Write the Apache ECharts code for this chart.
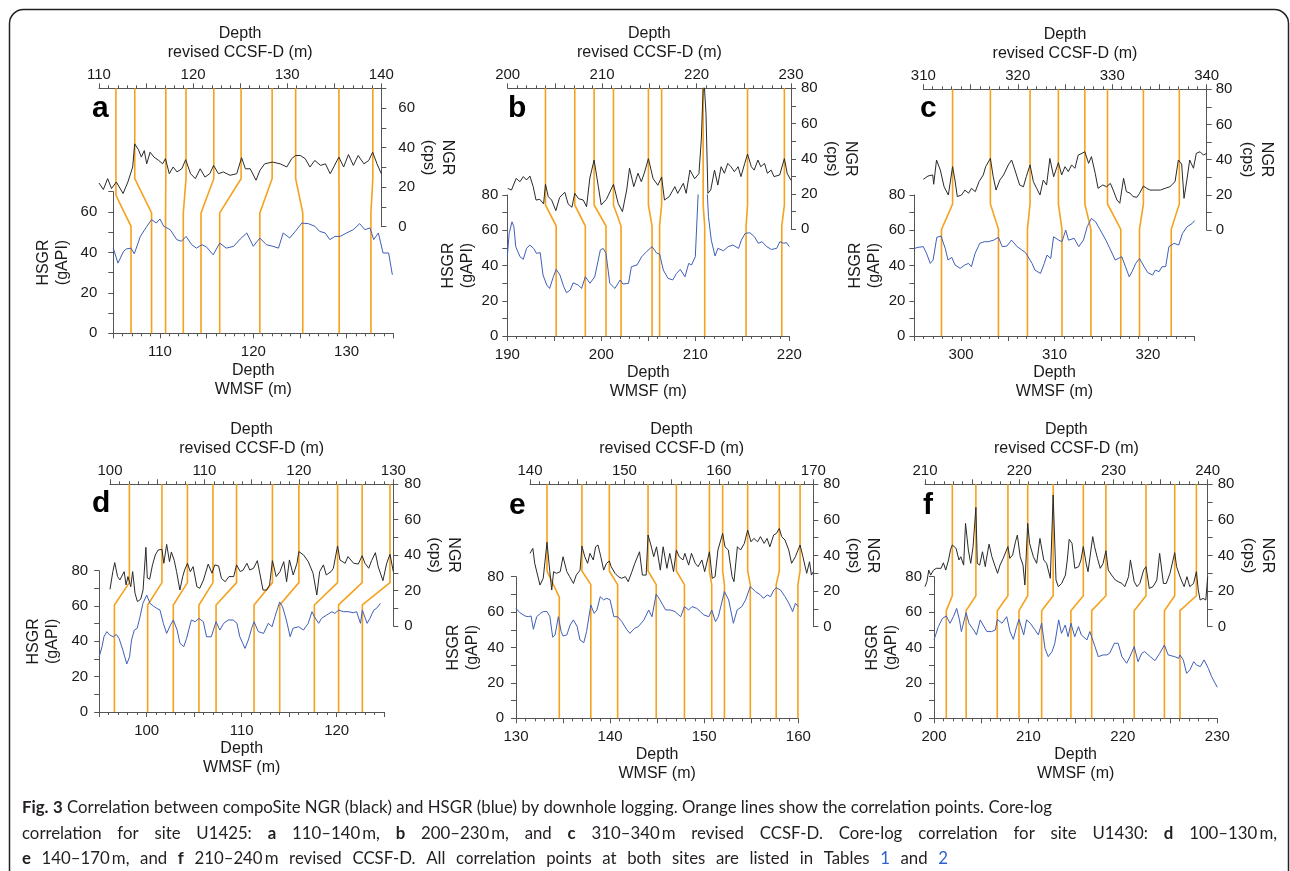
<!DOCTYPE html>
<html>
<head>
<meta charset="utf-8">
<title>Fig. 3 NGR vs HSGR correlation</title>
<script src="https://cdn.jsdelivr.net/npm/echarts@6/dist/echarts.min.js"></script>
<style>
  html, body { margin: 0; padding: 0; background: #fff; }
  #chart { width: 1290px; height: 871px; }
</style>
</head>
<body>
<div id="chart"></div>
<script>
// NGR: [revised CCSF-D depth (m), cps]; HSGR: [WMSF depth (m), gAPI]
const ngrA = [[110.0,22.1],[110.46,18.8],[110.92,24.3],[111.33,19.3],[111.84,22.6],[112.56,16.8],[113.07,22.6],[113.58,30.2],[113.79,41.9],[114.2,38.9],[114.5,35.2],[114.81,38.5],[115.07,31.8],[115.43,37.7],[115.84,35.2],[116.35,33.5],[116.76,31.8],[117.06,34.4],[117.47,26.8],[117.88,30.2],[118.29,27.7],[118.8,29.3],[119.21,33.9],[119.73,26.8],[120.24,24.3],[120.75,29.3],[121.26,25.1],[121.77,26.8],[122.18,31.0],[122.69,26.8],[123.21,27.7],[123.92,26.0],[124.64,26.8],[125.15,34.9],[125.56,29.3],[126.07,29.3],[126.69,23.5],[127.1,28.5],[127.61,31.8],[128.43,32.7],[129.25,31.8],[129.96,30.2],[130.48,34.4],[130.88,36.0],[131.4,36.0],[131.91,34.4],[132.42,30.2],[132.93,33.5],[133.55,31.0],[134.06,31.8],[134.57,26.8],[135.49,35.2],[136.0,30.2],[136.51,36.5],[137.03,31.0],[137.54,36.0],[138.15,31.8],[138.67,33.5],[139.08,37.7],[139.54,31.8],[140.0,26.8]];
const hsgrA = [[105.0,42.0],[105.5,34.7],[106.1,40.5],[106.4,41.7],[106.9,42.1],[107.25,39.3],[107.9,47.9],[108.6,52.9],[109.1,56.2],[109.6,54.5],[110.0,56.5],[110.4,52.9],[111.1,51.2],[111.8,46.3],[112.3,45.5],[112.8,47.9],[113.4,43.8],[113.9,42.1],[114.5,43.8],[115.0,42.6],[115.7,38.8],[116.4,44.6],[117.1,42.1],[117.9,43.0],[118.6,46.6],[119.3,49.6],[120.0,43.0],[120.7,47.1],[121.4,43.8],[122.1,43.0],[122.7,42.1],[123.2,49.6],[123.9,47.1],[124.5,50.4],[125.2,54.5],[125.9,54.2],[126.6,52.9],[127.1,50.4],[127.7,49.6],[128.2,46.3],[128.75,47.9],[129.3,47.9],[130.0,49.6],[130.7,51.2],[131.4,54.2],[131.96,51.2],[132.5,52.1],[132.9,46.3],[133.4,49.6],[133.9,39.7],[134.5,39.7],[134.9,28.9]];
const tieCcsfA = [111.8,113.8,117.1,119.25,122.2,125.1,128.4,130.9,135.5,139.1];
const tieWmsfA = [106.9,109.1,110.6,112.5,114.4,116.4,120.7,125.3,129.2,132.6];

const ngrB = [[200.0,23.2],[200.4,22.3],[200.9,28.9],[201.3,27.0],[201.65,29.9],[202.0,28.0],[202.35,30.2],[202.7,24.2],[203.0,16.6],[203.4,17.0],[203.8,14.4],[204.0,25.5],[204.3,18.5],[204.65,16.6],[205.1,10.6],[205.5,18.1],[206.05,21.0],[206.4,14.4],[206.8,12.5],[207.1,20.4],[207.5,17.4],[208.0,16.6],[208.35,12.8],[208.7,29.1],[209.15,39.3],[209.6,24.2],[209.9,13.8],[210.45,17.0],[211.2,25.5],[211.7,14.7],[212.15,10.0],[212.6,22.3],[212.9,34.7],[213.35,24.2],[213.8,31.8],[214.15,27.0],[214.5,32.5],[214.9,40.1],[215.4,28.7],[215.9,25.0],[216.3,29.7],[216.6,16.6],[217.1,18.5],[217.7,24.2],[218.0,20.4],[218.6,26.1],[218.9,20.4],[219.3,33.6],[219.8,28.7],[220.25,31.6],[220.5,50.6],[220.75,88],[220.9,88],[221.0,65.6],[221.2,20.4],[221.5,22.3],[221.9,33.6],[222.25,25.1],[222.6,35.5],[222.95,31.8],[223.3,37.4],[223.65,35.5],[224.0,32.7],[224.4,35.5],[224.7,29.9],[225.1,37.4],[225.4,42.7],[225.8,35.5],[226.1,33.6],[226.5,39.3],[226.8,35.5],[227.2,37.4],[227.5,31.8],[227.9,33.6],[228.2,29.9],[228.8,30.8],[229.3,40.1],[229.6,31.6],[230.0,27.8]];
const hsgrB = [[190.0,45.0],[190.2,58.2],[190.5,64.8],[190.7,62.0],[190.9,50.7],[191.35,45.0],[191.7,43.5],[192.05,49.7],[192.4,51.6],[192.8,49.7],[193.1,46.9],[193.5,47.3],[193.8,34.6],[194.2,28.9],[194.5,27.0],[194.9,33.6],[195.2,37.8],[195.6,34.6],[196.0,28.0],[196.3,24.6],[196.7,26.1],[197.0,30.2],[197.55,28.9],[197.9,27.0],[198.3,33.6],[198.8,29.9],[199.3,33.6],[199.9,48.8],[200.2,49.7],[200.5,46.9],[200.9,29.9],[201.45,27.0],[202.0,31.8],[202.3,29.5],[202.9,29.9],[203.2,39.3],[203.8,40.3],[204.3,45.0],[204.8,47.8],[205.4,50.7],[205.9,47.0],[206.2,46.5],[206.6,37.4],[207.1,32.7],[207.6,31.8],[208.0,35.5],[208.4,37.8],[208.9,33.6],[209.3,41.2],[209.6,40.3],[210.0,45.0],[210.3,80.0],[210.7,120.0],[211.1,100.0],[211.4,67.7],[211.7,54.4],[212.1,45.4],[212.4,49.7],[213.0,48.4],[213.5,50.7],[214.0,51.6],[214.6,49.7],[214.9,54.4],[215.3,58.2],[215.8,58.6],[216.3,56.3],[216.7,52.6],[217.1,53.5],[217.6,50.7],[218.1,49.1],[218.65,49.7],[219.0,53.5],[219.4,52.6],[219.7,53.0],[220.0,50.7]];
const tieCcsfB = [204.0,207.1,209.15,211.2,214.9,216.3,220.7,225.4,229.3];
const tieWmsfB = [195.2,198.3,200.5,202.1,205.4,206.2,211.0,215.4,219.2];

const ngrC = [[310.0,28.8],[310.5,30.7],[311.0,31.3],[311.1,26.0],[311.4,39.8],[311.8,34.1],[312.2,24.6],[312.65,19.9],[313.1,36.0],[313.35,28.4],[313.6,19.0],[314.05,19.9],[314.4,22.7],[314.8,20.9],[315.1,23.7],[315.5,21.8],[315.9,27.5],[316.35,31.3],[316.6,36.0],[317.1,40.7],[317.4,30.3],[317.7,22.7],[318.1,28.4],[318.5,31.3],[319.0,37.0],[319.35,39.8],[319.7,34.1],[320.2,25.6],[320.6,24.6],[320.9,30.3],[321.3,37.0],[321.65,27.5],[322.0,23.7],[322.35,19.9],[322.7,28.4],[323.05,25.6],[323.4,40.7],[323.8,30.3],[324.3,38.3],[324.65,31.3],[325.0,36.0],[325.35,33.2],[325.7,37.0],[326.05,35.1],[326.4,42.6],[326.8,43.6],[327.1,44.5],[327.5,37.9],[327.8,41.7],[328.2,32.2],[328.5,23.7],[329.0,25.6],[329.4,24.6],[329.8,26.5],[330.1,22.7],[330.5,17.1],[330.8,15.2],[331.2,29.4],[331.5,21.8],[331.9,20.9],[332.2,19.0],[332.6,18.6],[332.9,20.9],[333.3,25.0],[333.65,23.7],[334.0,22.7],[334.5,22.7],[335.1,22.7],[335.6,23.7],[336.1,24.6],[336.65,27.5],[337.0,39.8],[337.35,37.5],[337.6,18.0],[337.9,28.4],[338.2,39.8],[338.6,35.1],[338.9,43.6],[339.3,44.5],[339.65,42.6],[340.0,43.6]];
const hsgrC = [[295.0,49.7],[295.4,50.3],[295.95,50.7],[296.3,46.9],[296.7,41.2],[297.0,43.1],[297.4,56.0],[297.85,56.7],[298.3,49.7],[298.6,43.1],[299.0,44.6],[299.35,40.3],[299.9,38.4],[300.4,40.3],[300.8,41.2],[301.1,39.3],[301.5,46.9],[302.0,52.6],[302.5,53.5],[302.9,53.5],[303.5,54.4],[304.0,56.0],[304.4,50.7],[304.9,51.0],[305.4,54.4],[306.0,50.7],[306.5,48.8],[306.9,47.3],[307.1,47.8],[307.6,41.2],[307.9,37.4],[308.5,35.5],[308.9,41.2],[309.2,45.9],[309.6,44.0],[309.9,56.3],[310.45,54.4],[310.8,53.5],[311.2,60.1],[311.5,54.4],[312.1,55.4],[312.6,50.7],[313.1,54.4],[313.5,62.0],[313.95,66.7],[314.4,64.8],[314.9,60.1],[315.5,54.4],[316.0,48.8],[316.5,43.1],[317.2,45.0],[317.6,39.3],[318.0,33.6],[318.3,36.5],[318.7,41.2],[319.1,44.0],[319.6,39.3],[320.0,35.9],[320.5,34.6],[320.8,37.4],[321.2,36.5],[321.5,39.3],[321.9,39.3],[322.25,50.7],[322.8,52.6],[323.3,51.6],[323.7,58.2],[324.2,62.0],[324.75,63.9],[325.0,65.5]];
const tieCcsfC = [313.1,317.1,321.3,324.3,327.1,329.5,333.3,337.1];
const tieWmsfC = [297.9,304.0,307.1,310.8,313.9,317.1,319.1,322.5];

const ngrD = [[100.0,20.7],[100.3,30.7],[100.5,35.8],[100.8,27.9],[101.05,26.0],[101.5,30.7],[101.7,23.2],[101.9,27.9],[102.2,22.2],[102.4,30.7],[102.65,18.5],[102.9,13.8],[103.25,15.1],[103.5,20.3],[103.8,44.4],[103.95,27.1],[104.2,26.4],[104.5,34.5],[104.8,40.1],[105.1,42.9],[105.5,43.3],[105.7,35.4],[106.0,46.1],[106.3,36.3],[106.5,41.8],[106.8,37.1],[107.05,30.7],[107.4,20.3],[107.7,27.9],[107.9,31.6],[108.2,35.4],[108.5,30.7],[108.8,33.5],[109.2,22.2],[109.5,21.3],[109.9,26.0],[110.4,35.0],[110.8,29.8],[111.1,34.5],[111.5,33.9],[111.8,26.9],[112.2,25.0],[112.6,27.9],[113.1,27.9],[113.4,34.5],[113.8,30.7],[114.1,31.6],[114.5,35.4],[114.8,31.6],[115.2,32.6],[115.6,36.9],[115.9,28.8],[116.2,20.3],[116.6,20.3],[116.9,23.2],[117.2,36.9],[117.6,27.9],[118.0,30.7],[118.4,36.3],[118.7,25.0],[119.0,37.3],[119.4,28.8],[119.8,35.4],[120.0,42.0],[120.5,40.1],[121.0,36.3],[121.5,29.8],[121.9,17.5],[122.2,30.7],[122.6,34.5],[122.9,28.8],[123.4,30.7],[123.65,32.6],[124.1,45.2],[124.35,37.3],[124.9,35.4],[125.2,39.2],[125.8,35.4],[126.3,35.0],[126.7,39.7],[127.0,35.4],[127.4,32.6],[127.7,36.9],[128.1,41.4],[128.4,33.5],[128.9,25.6],[129.3,35.4],[129.65,40.5],[130.0,30.7]];
const hsgrD = [[95.0,31.3],[95.3,37.0],[95.5,42.6],[95.8,45.5],[96.1,43.6],[96.5,42.6],[96.8,43.9],[97.1,41.5],[97.5,34.9],[97.9,27.2],[98.2,31.3],[98.4,40.8],[98.7,46.4],[99.0,47.4],[99.3,54.0],[99.6,61.5],[100.0,66.2],[100.35,61.5],[100.7,60.0],[101.05,58.7],[101.4,57.7],[101.75,50.2],[102.1,44.5],[102.5,49.2],[102.8,52.1],[103.2,46.4],[103.5,38.9],[103.9,37.0],[104.2,41.7],[104.7,52.1],[105.1,51.1],[105.5,53.0],[105.96,51.1],[106.3,42.6],[106.8,42.6],[107.3,51.1],[107.7,46.4],[108.1,50.2],[108.6,52.1],[109.1,52.1],[109.5,50.2],[109.8,42.6],[110.35,36.0],[110.7,40.8],[111.05,47.4],[111.3,51.1],[111.75,45.5],[112.3,44.5],[112.8,50.2],[113.2,48.3],[113.5,54.0],[114.0,62.3],[114.3,59.6],[114.7,52.1],[115.1,42.6],[115.4,47.4],[116.0,48.3],[116.5,46.4],[117.0,50.2],[117.4,56.8],[117.65,54.0],[118.1,50.2],[118.4,53.0],[118.95,54.9],[119.5,56.8],[119.8,55.8],[120.2,57.7],[120.7,56.8],[121.2,56.8],[121.75,56.2],[122.1,56.8],[122.5,50.2],[122.7,57.7],[123.2,50.2],[123.5,53.0],[123.9,57.7],[124.2,58.7],[124.6,61.5]];
const tieCcsfD = [102.05,105.5,108.2,110.9,113.4,117.2,120.0,124.1,126.7,129.65];
const tieWmsfD = [96.6,100.1,102.8,105.5,107.3,111.3,114.0,117.65,120.2,122.7];

const ngrE = [[140.0,41.2],[140.3,44.0],[140.5,35.6],[140.8,29.0],[141.06,23.4],[141.4,27.2],[141.8,47.4],[142.1,30.9],[142.3,20.6],[142.5,30.9],[142.8,30.0],[143.2,30.9],[143.5,39.3],[143.9,30.9],[144.2,28.1],[144.6,24.3],[144.9,29.0],[145.3,31.8],[145.5,45.3],[145.8,39.3],[146.1,35.6],[146.35,41.2],[146.7,37.5],[146.95,44.9],[147.2,45.9],[147.5,39.3],[147.8,31.8],[148.1,35.6],[148.4,36.9],[148.6,33.7],[149.0,30.0],[149.35,28.1],[149.7,27.2],[150.1,28.1],[150.4,25.3],[150.8,31.0],[151.1,35.6],[151.6,42.1],[151.9,29.0],[152.3,29.0],[152.5,51.5],[152.8,45.9],[153.1,39.3],[153.4,44.9],[153.8,31.8],[154.1,44.9],[154.5,32.8],[154.8,41.2],[155.2,30.9],[155.5,43.1],[155.8,39.3],[156.2,37.5],[156.4,41.2],[156.8,34.6],[157.1,41.2],[157.5,35.6],[157.8,33.7],[158.2,37.5],[158.5,30.9],[159.0,42.1],[159.3,27.2],[159.6,28.1],[159.9,43.1],[160.4,52.4],[160.65,44.9],[161.0,43.1],[161.4,28.1],[161.6,25.3],[161.96,44.9],[162.3,43.1],[162.7,46.8],[163.05,54.3],[163.4,47.7],[163.7,49.6],[164.1,47.7],[164.4,50.6],[164.8,46.8],[165.1,49.6],[165.4,44.9],[165.8,51.5],[166.1,52.4],[166.4,55.2],[166.65,50.6],[167.0,48.7],[167.4,43.1],[167.7,35.6],[168.1,39.3],[168.6,45.9],[168.9,39.3],[169.3,30.0],[169.6,36.5],[169.8,29.0],[170.0,30.9]];
const hsgrE = [[130.0,62.1],[130.4,59.7],[130.96,57.8],[131.3,57.4],[131.6,57.8],[131.85,50.3],[132.2,57.4],[132.6,59.3],[132.9,60.3],[133.3,60.3],[133.6,57.4],[133.9,45.8],[134.15,47.1],[134.5,57.4],[134.8,49.0],[135.0,46.5],[135.4,47.1],[135.75,52.7],[136.1,55.6],[136.5,51.8],[136.8,44.3],[137.2,42.7],[137.5,49.0],[137.95,64.0],[138.3,59.3],[138.6,61.2],[138.95,68.7],[139.3,66.9],[139.65,67.8],[140.0,66.9],[140.4,57.4],[140.8,57.4],[141.25,54.6],[141.8,49.9],[142.1,48.0],[142.6,50.8],[143.0,51.8],[143.6,55.6],[144.1,61.2],[144.45,57.4],[144.9,70.2],[145.3,66.9],[145.9,61.2],[146.4,61.2],[146.9,60.3],[147.5,57.4],[147.9,63.1],[148.35,61.2],[148.7,63.1],[149.2,62.1],[149.6,60.3],[149.95,58.4],[150.5,57.4],[150.8,61.2],[151.2,54.6],[151.5,57.4],[152.15,71.6],[152.6,66.9],[153.1,53.7],[153.5,61.2],[154.0,63.1],[154.4,66.9],[154.9,74.4],[155.45,71.6],[155.98,69.7],[156.3,67.8],[156.7,69.7],[157.05,68.7],[157.4,72.5],[157.65,73.8],[158.1,72.5],[158.6,68.7],[159.0,65.0],[159.4,60.3],[159.7,65.0],[160.0,63.1]];
const tieCcsfE = [141.8,145.5,148.4,152.5,155.5,159.0,160.4,163.05,166.4,168.6];
const tieWmsfE = [134.6,137.95,140.8,144.9,147.9,150.8,152.15,154.9,157.65,159.96];

const ngrF = [[210.0,22.5],[210.2,25.3],[210.4,31.8],[210.6,29.0],[210.9,31.8],[211.2,32.8],[211.4,33.7],[211.7,32.8],[211.95,35.9],[212.2,31.8],[212.5,37.5],[212.7,43.1],[212.9,45.9],[213.3,44.0],[213.6,37.5],[213.8,39.3],[214.1,34.6],[214.3,58.1],[214.6,43.1],[214.85,35.6],[215.1,44.9],[215.4,67.0],[215.55,35.6],[215.8,34.6],[216.1,42.1],[216.4,33.7],[216.5,37.5],[216.8,46.4],[217.1,39.3],[217.4,34.6],[217.7,30.0],[217.96,34.6],[218.3,38.4],[218.8,45.0],[219.0,38.4],[219.3,40.3],[219.6,47.7],[219.8,51.5],[220.1,39.3],[220.4,34.6],[220.6,23.4],[220.9,58.1],[221.1,46.8],[221.5,39.3],[221.85,35.6],[222.2,49.6],[222.6,37.5],[222.9,35.6],[223.3,27.2],[223.6,74.0],[223.9,26.2],[224.15,22.5],[224.5,24.3],[224.9,29.0],[225.1,37.5],[225.3,49.1],[225.6,46.8],[225.9,32.8],[226.3,33.7],[226.55,37.5],[226.8,45.0],[227.1,35.6],[227.3,30.9],[227.5,30.0],[227.8,50.6],[228.0,44.9],[228.3,38.4],[228.6,32.8],[228.9,35.6],[229.2,42.7],[229.45,31.8],[229.8,29.0],[230.2,26.2],[230.5,25.3],[230.9,24.3],[231.2,22.5],[231.6,28.1],[231.8,37.5],[232.2,25.3],[232.5,22.5],[232.8,24.3],[233.2,31.8],[233.45,33.7],[233.8,21.5],[234.2,22.5],[234.6,26.2],[234.9,41.2],[235.3,24.3],[235.6,24.3],[236.0,30.0],[236.5,41.6],[236.7,33.7],[237.0,29.0],[237.2,26.2],[237.5,22.5],[237.8,28.1],[238.1,22.5],[238.5,24.3],[238.8,30.9],[239.0,20.6],[239.2,15.0],[239.5,15.9],[239.8,15.0],[240.0,28.1]];
const hsgrF = [[200.0,44.3],[200.46,51.8],[200.9,56.5],[201.3,57.8],[201.7,53.7],[202.05,57.4],[202.4,62.1],[202.7,55.6],[202.9,49.0],[203.4,59.7],[203.7,53.7],[204.2,49.9],[204.5,47.1],[204.9,55.6],[205.2,52.7],[205.6,49.0],[206.1,49.0],[206.5,49.9],[206.7,55.9],[207.2,53.7],[207.7,57.4],[208.05,49.0],[208.4,44.6],[208.75,51.8],[209.0,55.9],[209.5,47.1],[209.8,55.6],[210.2,53.7],[210.7,49.9],[211.05,47.1],[211.4,53.7],[211.75,39.5],[212.1,34.8],[212.5,37.7],[212.8,42.4],[213.2,55.6],[213.5,48.0],[213.9,52.7],[214.2,46.1],[214.5,53.7],[214.9,46.1],[215.3,51.8],[215.6,47.1],[216.2,44.3],[216.5,49.0],[216.7,49.9],[217.05,40.5],[217.4,34.8],[217.9,35.8],[218.3,35.8],[218.6,36.7],[219.1,42.4],[219.5,42.4],[219.9,34.8],[220.4,31.1],[220.75,34.8],[221.2,40.5],[221.6,32.0],[222.0,36.7],[222.3,37.7],[222.9,34.8],[223.4,32.6],[223.9,36.7],[224.4,41.4],[224.8,35.8],[225.5,34.8],[225.9,33.9],[226.05,35.8],[226.4,32.9],[226.75,25.4],[227.1,27.3],[227.5,32.0],[227.8,30.1],[228.2,29.2],[228.6,33.0],[229.05,28.2],[229.4,23.5],[230.0,17.5]];
const tieCcsfF = [212.9,215.4,218.8,220.9,223.6,226.8,229.2,233.45,236.5,238.8];
const tieWmsfF = [201.3,203.4,206.7,209.0,211.4,214.5,216.7,221.2,224.4,226.05];

// axis ranges: [WMSF min, WMSF max], [CCSF min, CCSF max], y max
const wmsfRanges = [[105,135],[190,220],[295,325],[95,125],[130,160],[200,230]];
const ccsfRanges = [[110,140],[200,230],[310,340],[100,130],[140,170],[210,240]];
const yMaxes = [70,80,80,80,80,80];
const panelLetters = ['a','b','c','d','e','f'];

const FONT = 'Liberation Sans';
const AXIS = '#555';
const TXT = '#1a1a1a';
const ORANGE = '#f5a21c';
const BLUE = '#3f5fb8';
const BLACK = '#2a2a2a';

// pixel layout of each panel (low = HSGR/WMSF frame, up = NGR/CCSF frame)
const panels = [
  {ngr: ngrA, hsgr: hsgrA, tc: tieCcsfA, tw: tieWmsfA,
   low: [113.3, 393.3, 191.7, 333.3], up: [99, 381.3, 88.3, 226.7],
   slant: [24.3, 59.5], first: [15.9, 52.9], letter: [92, 109], hGap: 41, wGap: 28, lm: 16, rm: 17},
  {ngr: ngrB, hsgr: hsgrB, tc: tieCcsfB, tw: tieWmsfB,
   low: [507.3, 789.3, 195, 336], up: [507.7, 791, 88.3, 229.3],
   slant: [13.8, 62.4], letter: [508, 109], hGap: 30, wGap: 25, lm: 9, rm: 10},
  {ngr: ngrC, hsgr: hsgrC, tc: tieCcsfC, tw: tieWmsfC,
   low: [914.4, 1194.6, 195, 336], up: [923.3, 1206.7, 89.3, 230],
   slant: [14.8, 60.5], letter: [920, 109], hGap: 30, wGap: 25, lm: 9, rm: 9},
  {ngr: ngrD, hsgr: hsgrD, tc: tieCcsfD, tw: tieWmsfD,
   low: [99.2, 384.2, 570.7, 712], up: [110, 393.3, 484.3, 626],
   slant: [24.5, 60.6], letter: [92, 504], hGap: 37, wGap: 27, lm: 11, rm: 11},
  {ngr: ngrE, hsgr: hsgrE, tc: tieCcsfE, tw: tieWmsfE,
   low: [516, 798.3, 576.7, 718.3], up: [530, 813.3, 484.3, 626.7],
   slant: [31.3, 75.5], first: [31.3, 68.5], letter: [509, 506], hGap: 34, wGap: 21, lm: 12, rm: 10},
  {ngr: ngrF, hsgr: hsgrF, tc: tieCcsfF, tw: tieWmsfF,
   low: [934, 1217.3, 576.7, 718.3], up: [925, 1207.7, 484.3, 626.7],
   slant: [17.4, 60.8], letter: [923, 506], hGap: 33, wGap: 21, lm: 12, rm: 10}
];

const chart = echarts.init(document.getElementById('chart'));

function depthAxis(gridIndex, position, range, name, gap, margin) {
  return {
    type: 'value', gridIndex, position, min: range[0], max: range[1], interval: 5,
    name, nameLocation: 'middle', nameGap: gap,
    nameTextStyle: {fontFamily: FONT, fontSize: 16, lineHeight: 19, color: TXT},
    axisLine: {show: true, onZero: false, lineStyle: {color: AXIS, width: 1}},
    axisTick: {show: true, interval: 0, length: 5, lineStyle: {color: AXIS}},
    minorTick: {show: true, splitNumber: 5, length: 3, lineStyle: {color: AXIS}},
    axisLabel: {interval: 0, margin, fontFamily: FONT, fontSize: 15, color: TXT,
      formatter: v => (v % 10 === 0 ? String(v) : '')},
    splitLine: {show: false}, minorSplitLine: {show: false}
  };
}

function logAxis(gridIndex, position, max, name, rotate, gap, margin) {
  return {
    type: 'value', gridIndex, position, min: 0, max, interval: 10,
    name, nameLocation: 'middle', nameGap: gap, nameRotate: rotate,
    nameTextStyle: {fontFamily: FONT, fontSize: 16, lineHeight: 19, color: TXT},
    axisLine: {show: true, onZero: false, lineStyle: {color: AXIS, width: 1}},
    axisTick: {show: true, interval: 0, length: 5, lineStyle: {color: AXIS}},
    axisLabel: {interval: 0, margin, fontFamily: FONT, fontSize: 15, color: TXT,
      formatter: v => (v % 20 === 0 ? String(v) : '')},
    splitLine: {show: false}
  };
}

const grid = [], xAxis = [], yAxis = [], series = [], graphic = [];

panels.forEach((p, i) => {
  const L = p.low, U = p.up;
  const lo = 2 * i, hi = 2 * i + 1;
  grid.push({left: L[0], top: L[2], width: L[1] - L[0], height: L[3] - L[2]});
  grid.push({left: U[0], top: U[2], width: U[1] - U[0], height: U[3] - U[2]});
  xAxis.push(depthAxis(lo, 'bottom', wmsfRanges[i], 'Depth\nWMSF (m)', p.wGap, 11));
  xAxis.push(depthAxis(hi, 'top', ccsfRanges[i], 'Depth\nrevised CCSF-D (m)', 26, 6));
  yAxis.push(logAxis(lo, 'left', yMaxes[i], 'HSGR\n(gAPI)', 90, p.hGap, p.lm));
  yAxis.push(logAxis(hi, 'right', yMaxes[i], 'NGR\n(cps)', -90, 31, p.rm));

  // orange correlation lines: CCSF point on top frame -> WMSF point on bottom frame
  series.push({
    type: 'custom', xAxisIndex: lo, yAxisIndex: lo, silent: true, z: 2,
    data: p.tw.map((w, k) => [w, p.tc[k], k]),
    renderItem: (params, api) => {
      const w = api.value(0), c = api.value(1), k = api.value(2);
      const lv = (p.first && k === 0) ? p.first : p.slant;
      const xt = chart.convertToPixel({xAxisIndex: hi}, c);
      const yt = chart.convertToPixel({yAxisIndex: hi}, yMaxes[i]);
      const ys = chart.convertToPixel({yAxisIndex: hi}, lv[0]);
      const pb = api.coord([w, lv[1]]);
      const p0 = api.coord([w, 0]);
      return {
        type: 'polyline',
        shape: {points: [[xt, yt], [xt, ys], pb, p0]},
        style: {stroke: ORANGE, lineWidth: 1.6, fill: 'none'}
      };
    }
  });
  series.push({type: 'line', name: 'HSGR', xAxisIndex: lo, yAxisIndex: lo, data: p.hsgr,
    symbol: 'none', silent: true, z: 3, lineStyle: {color: BLUE, width: 1}});
  series.push({type: 'line', name: 'NGR', xAxisIndex: hi, yAxisIndex: hi, data: p.ngr,
    symbol: 'none', silent: true, z: 3, lineStyle: {color: BLACK, width: 1}});

  graphic.push({type: 'text', x: p.letter[0], y: p.letter[1], silent: true,
    style: {text: panelLetters[i], fontFamily: FONT, fontWeight: 'bold', fontSize: 30,
      fill: '#000', align: 'left', verticalAlign: 'middle'}});
});

// caption box and text
const CAP_FONT = 'Lato';
const CAP_SIZE = 16.8;
const CAP_COLOR = '#231f20';
const LINK = '#2f5fd0';
graphic.push({type: 'rect', silent: true,
  shape: {x: 9.5, y: 9.5, width: 1279, height: 900, r: 14},
  style: {fill: 'none', stroke: '#222', lineWidth: 1.5}});

// words: [text, bold, link colour]; each line is spread between x 22 and its right end
const captionLines = [
  {y: 808, right: 1052, words: [['Fig.',1],['3',1],['Correlation'],['between'],['compoSite'],['NGR'],['(black)'],['and'],
    ['HSGR'],['(blue)'],['by'],['downhole'],['logging.'],['Orange'],['lines'],['show'],['the'],['correlation'],
    ['points.'],['Core-log']]},
  {y: 834, right: 1277, words: [['correlation'],['for'],['site'],['U1425:'],['a',1],['110–140\u2009m,'],['b',1],['200–230\u2009m,'],
    ['and'],['c',1],['310–340\u2009m'],['revised'],['CCSF-D.'],['Core-log'],['correlation'],['for'],['site'],
    ['U1430:'],['d',1],['100–130\u2009m,']]},
  {y: 859, right: 948, words: [['e',1],['140–170\u2009m,'],['and'],['f',1],['210–240\u2009m'],['revised'],['CCSF-D.'],['All'],
    ['correlation'],['points'],['at'],['both'],['sites'],['are'],['listed'],['in'],['Tables'],['1',0,1],['and'],['2',0,1]]}
];
const ctx = document.createElement('canvas').getContext('2d');
captionLines.forEach(line => {
  const widths = line.words.map(([t, b]) => {
    ctx.font = (b ? 'bold ' : '') + CAP_SIZE + 'px ' + CAP_FONT;
    return ctx.measureText(t).width;
  });
  const total = widths.reduce((a, b) => a + b, 0);
  const gapW = (line.right - 22 - total) / (line.words.length - 1);
  let cx = 22;
  line.words.forEach(([t, b, lk], k) => {
    graphic.push({type: 'text', x: cx, y: line.y, silent: true,
      style: {text: t, fontFamily: CAP_FONT, fontSize: CAP_SIZE, fontWeight: b ? 'bold' : 'normal',
        fill: lk ? LINK : CAP_COLOR, verticalAlign: 'middle'}});
    cx += widths[k] + gapW;
  });
});

chart.setOption({
  animation: false,
  backgroundColor: '#fff',
  grid, xAxis, yAxis, series, graphic
});
</script>
</body>
</html>
